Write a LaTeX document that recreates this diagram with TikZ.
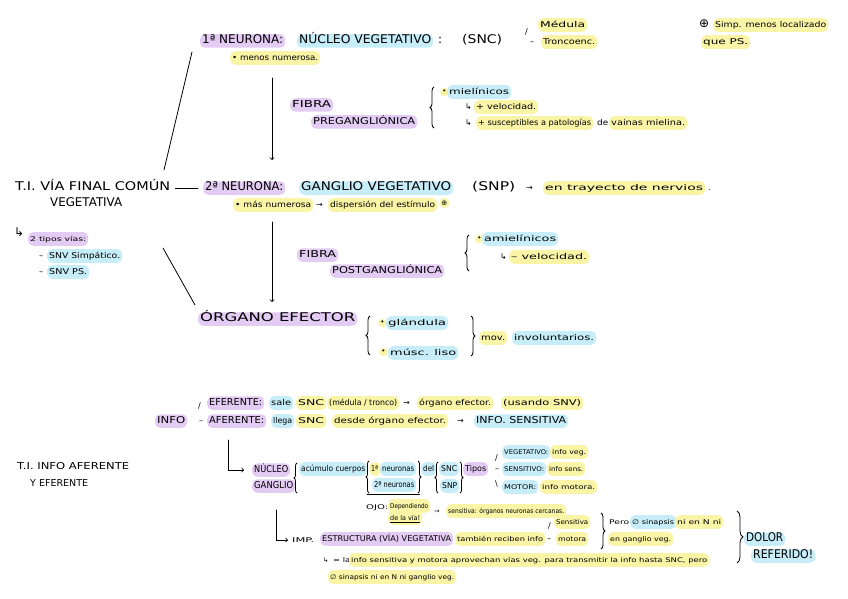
\documentclass[tikz,border=0pt]{standalone}
\usepackage{fontspec}
\setmainfont{DejaVu Sans}
\usetikzlibrary{decorations.pathreplacing}
\definecolor{hlp}{HTML}{E3CBF3}
\definecolor{hlb}{HTML}{C6EDF8}
\definecolor{hly}{HTML}{F9F4A6}
% stretch a text to the width of the handwriting
\newcommand{\fitw}[2]{\resizebox{#1pt}{\height}{#2}}
\tikzset{
  every node/.style={anchor=west, inner xsep=2pt, inner ysep=2pt},
  big/.style={font=\fontsize{12}{13}\selectfont, text height=.75em, text depth=.2em},
  mid/.style={font=\fontsize{9.5}{10}\selectfont, text height=.75em, text depth=.2em},
  sml/.style={font=\fontsize{8}{9}\selectfont, text height=.75em, text depth=.22em},
  tny/.style={font=\fontsize{6.5}{7}\selectfont, text height=.75em, text depth=.22em},
  hp/.style={fill=hlp, rounded corners=5pt},
  hb/.style={fill=hlb, rounded corners=5pt},
  hy/.style={fill=hly, rounded corners=5pt},
  dot/.style={fill=hly, circle, inner sep=1pt, font=\fontsize{7}{7}\selectfont},
  brc/.style={decorate, decoration={brace, amplitude=#1}, thick},
  brc/.default=4pt,
  pen/.style={thick, line cap=round},
}
\begin{document}
\begin{tikzpicture}[x=1pt,y=-1pt]
\useasboundingbox (0,0) rectangle (848,599);
\fill[white] (0,0) rectangle (848,599);

% 1a neurona
\node[big,hp] (neu1) at (200,41) {\fitw{81}{1ª NEURONA:}};
\node[big,hb] (nucv) at (297,41) {\fitw{132}{NÚCLEO VEGETATIVO}};
\node[big] (col1) at (436,41) {:};
\node[big] (snc1) at (460,41) {\fitw{40}{(SNC)}};
\node[sml] (sl1) at (523,32) {/};
\node[sml,hy] (med) at (538,25) {\fitw{45}{Médula}};
\node[sml] (sl2) at (528,42) {–};
\node[sml,hy] (tron) at (541,42) {\fitw{52}{Troncoenc.}};
\node[big] (plus) at (697,25) {⊕};
\node[sml,hy] (simp) at (713,25) {\fitw{111}{Simp. menos localizado}};
\node[sml,hy] (qps) at (701,42) {\fitw{45}{que PS.}};
\node[sml,hy] (menn) at (230,58) {\fitw{86}{• menos numerosa.}};

% fibra preganglionica
\node[mid,hp] (fib1) at (290,105) {\fitw{39}{FIBRA}};
\node[mid,hp] (pre) at (311,122) {\fitw{102}{PREGANGLIÓNICA}};
\draw[brc] (434,128) -- (434,87);
\node[dot] (d1) at (440,92) {•};
\node[sml,hb] (miel) at (447,92) {\fitw{60}{mielínicos}};
\node[sml] (ar1) at (463,107) {↳};
\node[sml,hy] (vel1) at (474,107) {\fitw{60}{+ velocidad.}};
\node[sml] (ar2) at (463,123) {↳};
\node[sml,hy] (sus) at (476,123) {\fitw{113}{+ susceptibles a patologías}};
\node[sml] (de1) at (595,123) {\fitw{11}{de}};
\node[sml,hy] (vai) at (609,123) {\fitw{74}{vainas mielina.}};

% via final comun
\node[big] (ti1) at (13,188) {\fitw{155}{T.I. VÍA FINAL COMÚN}};
\node[big] (ti1b) at (48,204) {\fitw{72}{VEGETATIVA}};
\node[big,hp] (neu2) at (203,188) {\fitw{78}{2ª NEURONA:}};
\node[big,hb] (ganv) at (299,188) {\fitw{150}{GANGLIO VEGETATIVO}};
\node[big] (snp) at (470,188) {\fitw{43}{(SNP)}};
\node[sml] (ar3) at (524,188) {→};
\node[sml,hy] (tray) at (543,188) {\fitw{158}{en trayecto de nervios}};
\node[sml] (pt) at (706,188) {.};
\node[sml,hy] (masn) at (233,205) {\fitw{76}{• más numerosa}};
\node[sml] (ar4) at (314,205) {→};
\node[sml,hy] (disp) at (328,205) {\fitw{105}{dispersión del estímulo}};
\node[dot] (plus2) at (439,203) {⊕};
\draw[pen] ([xshift=3pt]ti1.east) -- ([xshift=-5pt]neu2.west);

\node[big] (ar5) at (12,234) {↳};
\node[tny,hp] (tip) at (28,239) {\fitw{56}{2 tipos vías:}};
\node[sml] (g1) at (37,256) {–};
\node[sml,hb] (simpa) at (47,256) {\fitw{71}{SNV Simpático.}};
\node[sml] (g2) at (37,272) {–};
\node[sml,hb] (snvps) at (47,272) {\fitw{38}{SNV PS.}};

\coordinate (l1a) at (192,52);
\coordinate (l1b) at (164,170);
\coordinate (l2a) at (163,248);
\coordinate (l2b) at (195,305);
\draw[pen] (l1a) -- (l1b);
\draw[pen] (l2a) -- (l2b);

\coordinate (a1) at (272,78);
\coordinate (a2) at (272,160);
\coordinate (a3) at (272,222);
\coordinate (a4) at (272,302);
\draw[pen,->] (a1) -- (a2);
\draw[pen,->] (a3) -- (a4);

% fibra postganglionica
\node[mid,hp] (fib2) at (297,255) {\fitw{37}{FIBRA}};
\node[mid,hp] (post) at (330,271) {\fitw{110}{POSTGANGLIÓNICA}};
\draw[brc] (469,271) -- (469,235);
\node[dot] (d2) at (475,239) {•};
\node[sml,hb] (amie) at (482,239) {\fitw{72}{amielínicos}};
\node[sml] (ar6) at (498,257) {↳};
\node[sml,hy] (vel2) at (509,257) {\fitw{76}{– velocidad.}};

% organo efector
\node[big,hp] (org) at (198,319) {\fitw{155}{ÓRGANO EFECTOR}};
\draw[brc] (370,355) -- (370,316);
\node[dot] (d3) at (378,323) {•};
\node[sml,hb] (glan) at (386,323) {\fitw{58}{glándula}};
\node[dot] (d4) at (379,352) {•};
\node[sml,hb] (musc) at (388,353) {\fitw{66}{músc. liso}};
\draw[brc] (471,316) -- (471,356);
\node[sml,hy] (mov) at (479,338) {\fitw{24}{mov.}};
\node[sml,hb] (invo) at (512,338) {\fitw{80}{involuntarios.}};

% info
\node[mid,hp] (info) at (155,421) {\fitw{28}{INFO}};
\node[sml] (s1) at (196,406) {/};
\node[mid,hp] (efe) at (207,403) {\fitw{53}{EFERENTE:}};
\node[sml,hb] (sale) at (269,403) {\fitw{20}{sale}};
\node[sml,hy] (snc2) at (296,403) {\fitw{26}{SNC}};
\node[sml,hy] (medt) at (327,403) {\fitw{68}{(médula / tronco)}};
\node[sml] (ar7) at (401,403) {→};
\node[sml,hy] (orge) at (417,403) {\fitw{72}{órgano efector.}};
\node[sml,hy] (usa) at (501,403) {\fitw{78}{(usando SNV)}};
\node[sml] (s2) at (197,421) {–};
\node[mid,hp] (afe) at (207,421) {\fitw{55}{AFERENTE:}};
\node[sml,hb] (lle) at (271,421) {\fitw{19}{llega}};
\node[sml,hy] (snc3) at (296,421) {\fitw{26}{SNC}};
\node[sml,hy] (desd) at (332,421) {\fitw{112}{desde órgano efector.}};
\node[sml] (ar8) at (455,421) {→};
\node[mid,hb] (sens) at (474,421) {\fitw{90}{INFO. SENSITIVA}};

\node[mid] (ti2) at (15,467) {\fitw{112}{T.I. INFO AFERENTE}};
\node[mid] (ti2b) at (28,484) {\fitw{58}{Y EFERENTE}};

% nucleo / ganglio
\node[mid,hp] (nuc) at (252,470) {\fitw{34}{NÚCLEO}};
\node[mid,hp] (gan) at (252,486) {\fitw{39}{GANGLIO}};
\coordinate (c1) at (228,440);
\draw[pen,->] (c1) |- ([xshift=-8pt]nuc.west);
\draw[brc=3pt] (297,493) -- (297,463);
\node[sml,hb] (acu) at (299,469) {\fitw{64}{acúmulo cuerpos}};
\draw[brc=3pt] (369,493) -- (369,461);
\node[sml,hy] (p1) at (369,469) {\fitw{7}{1ª}};
\node[sml,hb] (neur1) at (380,469) {\fitw{32}{neuronas}};
\node[sml,hb] (neur2) at (372,485) {\fitw{40}{2ª neuronas}};
\draw[pen] ([xshift=-5pt,yshift=-2pt]neur2.south west) -- ([xshift=3pt,yshift=-2pt]neur2.south east);
\draw[brc=3pt] (418,461) -- (418,493);
\node[sml,hb] (del) at (421,469) {\fitw{11}{del}};
\draw[brc=3pt] (438,493) -- (438,462);
\node[sml,hb] (snc4) at (439,469) {\fitw{16}{SNC}};
\node[sml,hb] (snp2) at (440,486) {\fitw{15}{SNP}};
\draw[brc=3pt] (460,462) -- (460,493);
\node[sml,hp] (tipos) at (463,469) {\fitw{21}{Tipos}};
\node[sml] (s3) at (493,458) {/};
\node[tny,hb] (veg) at (502,452) {\fitw{44}{VEGETATIVO:}};
\node[tny,hy] (iveg) at (550,452) {\fitw{34}{info veg.}};
\node[sml] (s4) at (493,469) {–};
\node[tny,hb] (sen) at (502,469) {\fitw{40}{SENSITIVO:}};
\node[tny,hy] (isen) at (547,469) {\fitw{34}{info sens.}};
\node[sml] (s5) at (493,484) {\textbackslash};
\node[tny,hb] (mot) at (502,487) {\fitw{32}{MOTOR:}};
\node[tny,hy] (imot) at (540,487) {\fitw{53}{info motora.}};

% ojo
\node[tny] (ojo) at (364,507) {\fitw{22}{OJO:}};
\node[tny,hy] (dep) at (388,506) {\fitw{38}{Dependiendo}};
\node[tny,hy] (dlv) at (388,518) {\fitw{30}{\underline{de la vía!}}};
\node[tny] (ar9) at (432,511) {→};
\node[tny,hy] (sens2) at (446,511) {\fitw{116}{sensitiva: órganos neuronas cercanas.}};

% importante
\node[tny] (imp) at (290,540) {\fitw{22}{IMP.}};
\coordinate (c2) at (276,510);
\draw[pen,->] (c2) |- ([xshift=-2pt]imp.west);
\node[sml,hp] (estr) at (320,539) {\fitw{129}{ESTRUCTURA (VÍA) VEGETATIVA}};
\node[tny,hy] (tamb) at (455,539) {\fitw{86}{también reciben info}};
\node[sml] (s6) at (546,526) {/};
\node[tny,hy] (sensi) at (554,522) {\fitw{32}{Sensitiva}};
\node[sml] (s7) at (545,539) {–};
\node[tny,hy] (moto) at (556,539) {\fitw{28}{motora}};
\draw[brc] (601,513) -- (601,549);
\node[tny] (pero) at (607,522) {\fitw{20}{Pero}};
\node[tny,hb] (sin1) at (630,522) {\fitw{42}{∅ sinapsis}};
\node[tny,hy] (nien) at (675,522) {\fitw{44}{ni en N ni}};
\node[tny,hy] (engv) at (608,539) {\fitw{61}{en ganglio veg.}};
\draw[brc=6pt] (737,511) -- (737,563);
\node[big,hb] (dol) at (744,539) {\fitw{37}{DOLOR}};
\node[big,hb] (ref) at (751,556) {\fitw{60}{REFERIDO!}};
\node[tny] (ar10) at (321,560) {↳};
\node[tny] (eqla) at (331,560) {\fitw{17}{= la}};
\node[tny,hy] (apro) at (349,560) {\fitw{356}{info sensitiva y motora aprovechan vías veg. para transmitir la info hasta SNC, pero}};
\node[tny,hy] (sin2) at (328,577) {\fitw{124}{∅ sinapsis ni en N ni ganglio veg.}};
\end{tikzpicture}
\end{document}
